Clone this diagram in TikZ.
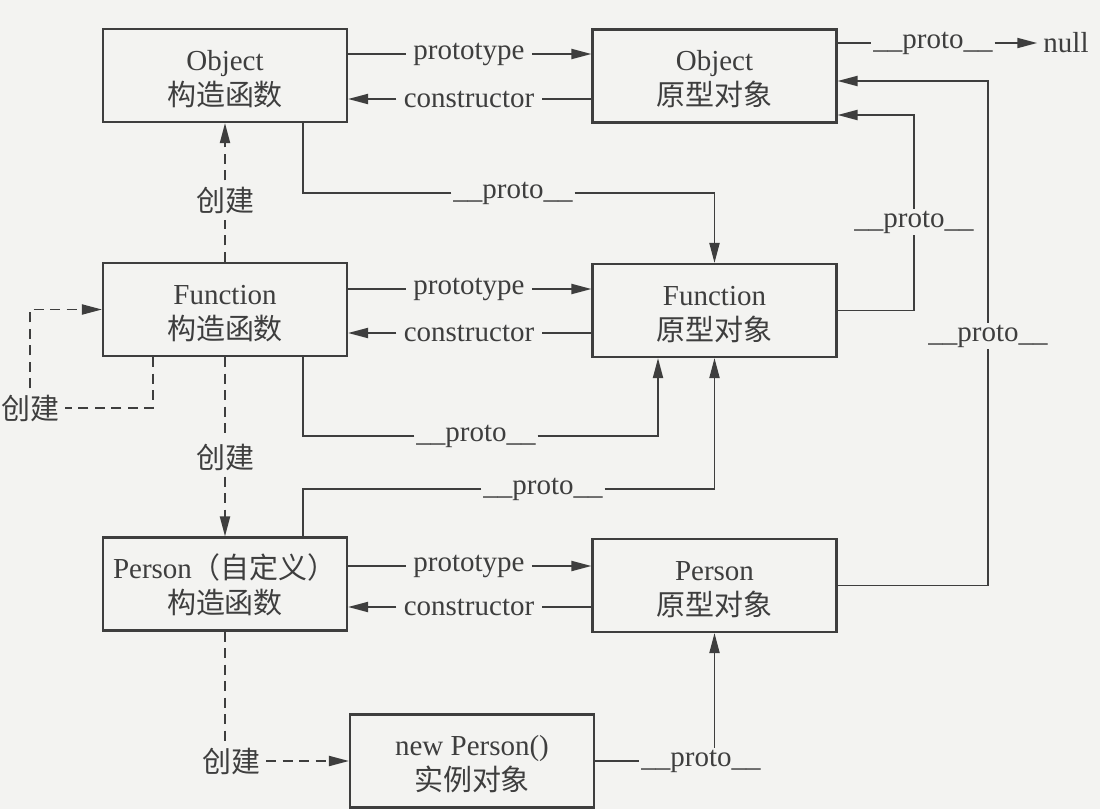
\documentclass[tikz,border=0pt]{standalone}
\usepackage{fontspec}
\setmainfont{Liberation Serif}
\newfontfamily\cjk{Noto Sans CJK SC}
\usetikzlibrary{arrows.meta}
\definecolor{paper}{RGB}{243,243,241}
\definecolor{ink}{RGB}{62,62,62}
\newcommand{\cn}[1]{{\cjk #1}}
\newcommand{\pr}{\_\_proto\_\_}
\tikzset{
  box/.style={draw=ink, line width=1.2pt, minimum width=4.88cm, minimum height=1.86cm, align=center, inner sep=0pt,
    text height=36pt, text depth=2pt},
  lbl/.style={inner xsep=4pt, inner ysep=1pt},
  plbl/.style={inner xsep=1pt, inner ysep=1pt},
  link/.style={draw=ink, line width=1.1pt},
  made/.style={link, dash pattern=on 0.2cm off 0.13cm},
  >={Triangle[length=0.4cm,width=0.2cm]}
}
\begin{document}
\begin{tikzpicture}[x=0.02cm,y=-0.02cm,every node/.style={text=ink,font=\fontsize{16.5pt}{20pt}\selectfont}]
\fill[paper] (0,0) rectangle (1100,809);
\useasboundingbox (0,0) rectangle (1100,809);
% boxes
\node[box] (oc) at (225,75.5) {Object\\\cn{构造函数}};
\node[box] (op) at (714.5,76) {Object\\\cn{原型对象}};
\node[box] (fc) at (225,309.5) {Function\\\cn{构造函数}};
\node[box] (fp) at (714.5,310.5) {Function\\\cn{原型对象}};
\node[box] (pc) at (225,584) {Person\cn{（自定义）}\\\cn{构造函数}};
\node[box] (pp) at (714.5,585.5) {Person\\\cn{原型对象}};
\node[box] (np) at (472,761) {new Person()\\\cn{实例对象}};
% prototype / constructor
\foreach \a/\b/\t/\c in {oc/op/54/99, fc/fp/289/333, pc/pp/566/607} {
  \node[lbl] (\a pt) at (469,\t) {prototype};
  \node[lbl] (\a ct) at (469,\c) {constructor};
  \draw[link] (\a.east |- \a pt) -- (\a pt);
  \draw[link,->] (\a pt) -- (\b.west |- \a pt);
  \draw[link] (\b.west |- \a ct) -- (\a ct);
  \draw[link,->] (\a ct) -- (\a.east |- \a ct);
}
% __proto__ links
\node[plbl] (pN) at (933,43) {\pr};
\node (null) at (1066,43) {null};
\draw[link] (op.east |- pN) -- (pN);
\draw[link,->] (pN) -- (null);
\node[plbl] (pOF) at (513,193) {\pr};
\draw[link] (pOF) -| ([xshift=1.56cm]oc.south);
\draw[link,->] (pOF) -| (fp.north);
\node[plbl] (pFF) at (476,436) {\pr};
\draw[link] (pFF) -| ([xshift=1.56cm]fc.south);
\draw[link,->] (pFF) -| ([xshift=-1.13cm]fp.south);
\node[plbl] (pPF) at (543,489) {\pr};
\draw[link] (pPF) -| ([xshift=1.56cm]pc.north);
\draw[link,->] (pPF) -| (fp.south);
\node[plbl] (pFO) at (914,222) {\pr};
\draw[link] (fp.east) -| (pFO);
\draw[link,->] (pFO) |- ([yshift=-0.78cm]op.east);
\node[plbl] (pPO) at (988,336) {\pr};
\draw[link] (pp.east) -| (pPO);
\draw[link,->] (pPO) |- ([yshift=-0.1cm]op.east);
\node[plbl] (pNP) at (701,761) {\pr};
\draw[link] (np.east) -- (pNP);
\draw[link,->] (pNP.north -| pp.south) -- (pp.south);
% 创建
\node (c1) at (225,200) {\cn{创建}};
\draw[made] (fc.north) -- (c1);
\draw[made,->] (c1) -- (oc.south);
\node (c2) at (30,408) {\cn{创建}};
\draw[made] ([xshift=-1.44cm]fc.south) |- (c2);
\draw[made,->] (c2) |- (fc.west);
\node (c3) at (225,457) {\cn{创建}};
\draw[made] (fc.south) -- (c3);
\draw[made,->] (c3) -- (pc.north);
\node (c4) at (231,761) {\cn{创建}};
\draw[made] (pc.south) -- (c4.north -| pc.south);
\draw[made,->] (c4) -- (np.west);
\end{tikzpicture}
\end{document}
